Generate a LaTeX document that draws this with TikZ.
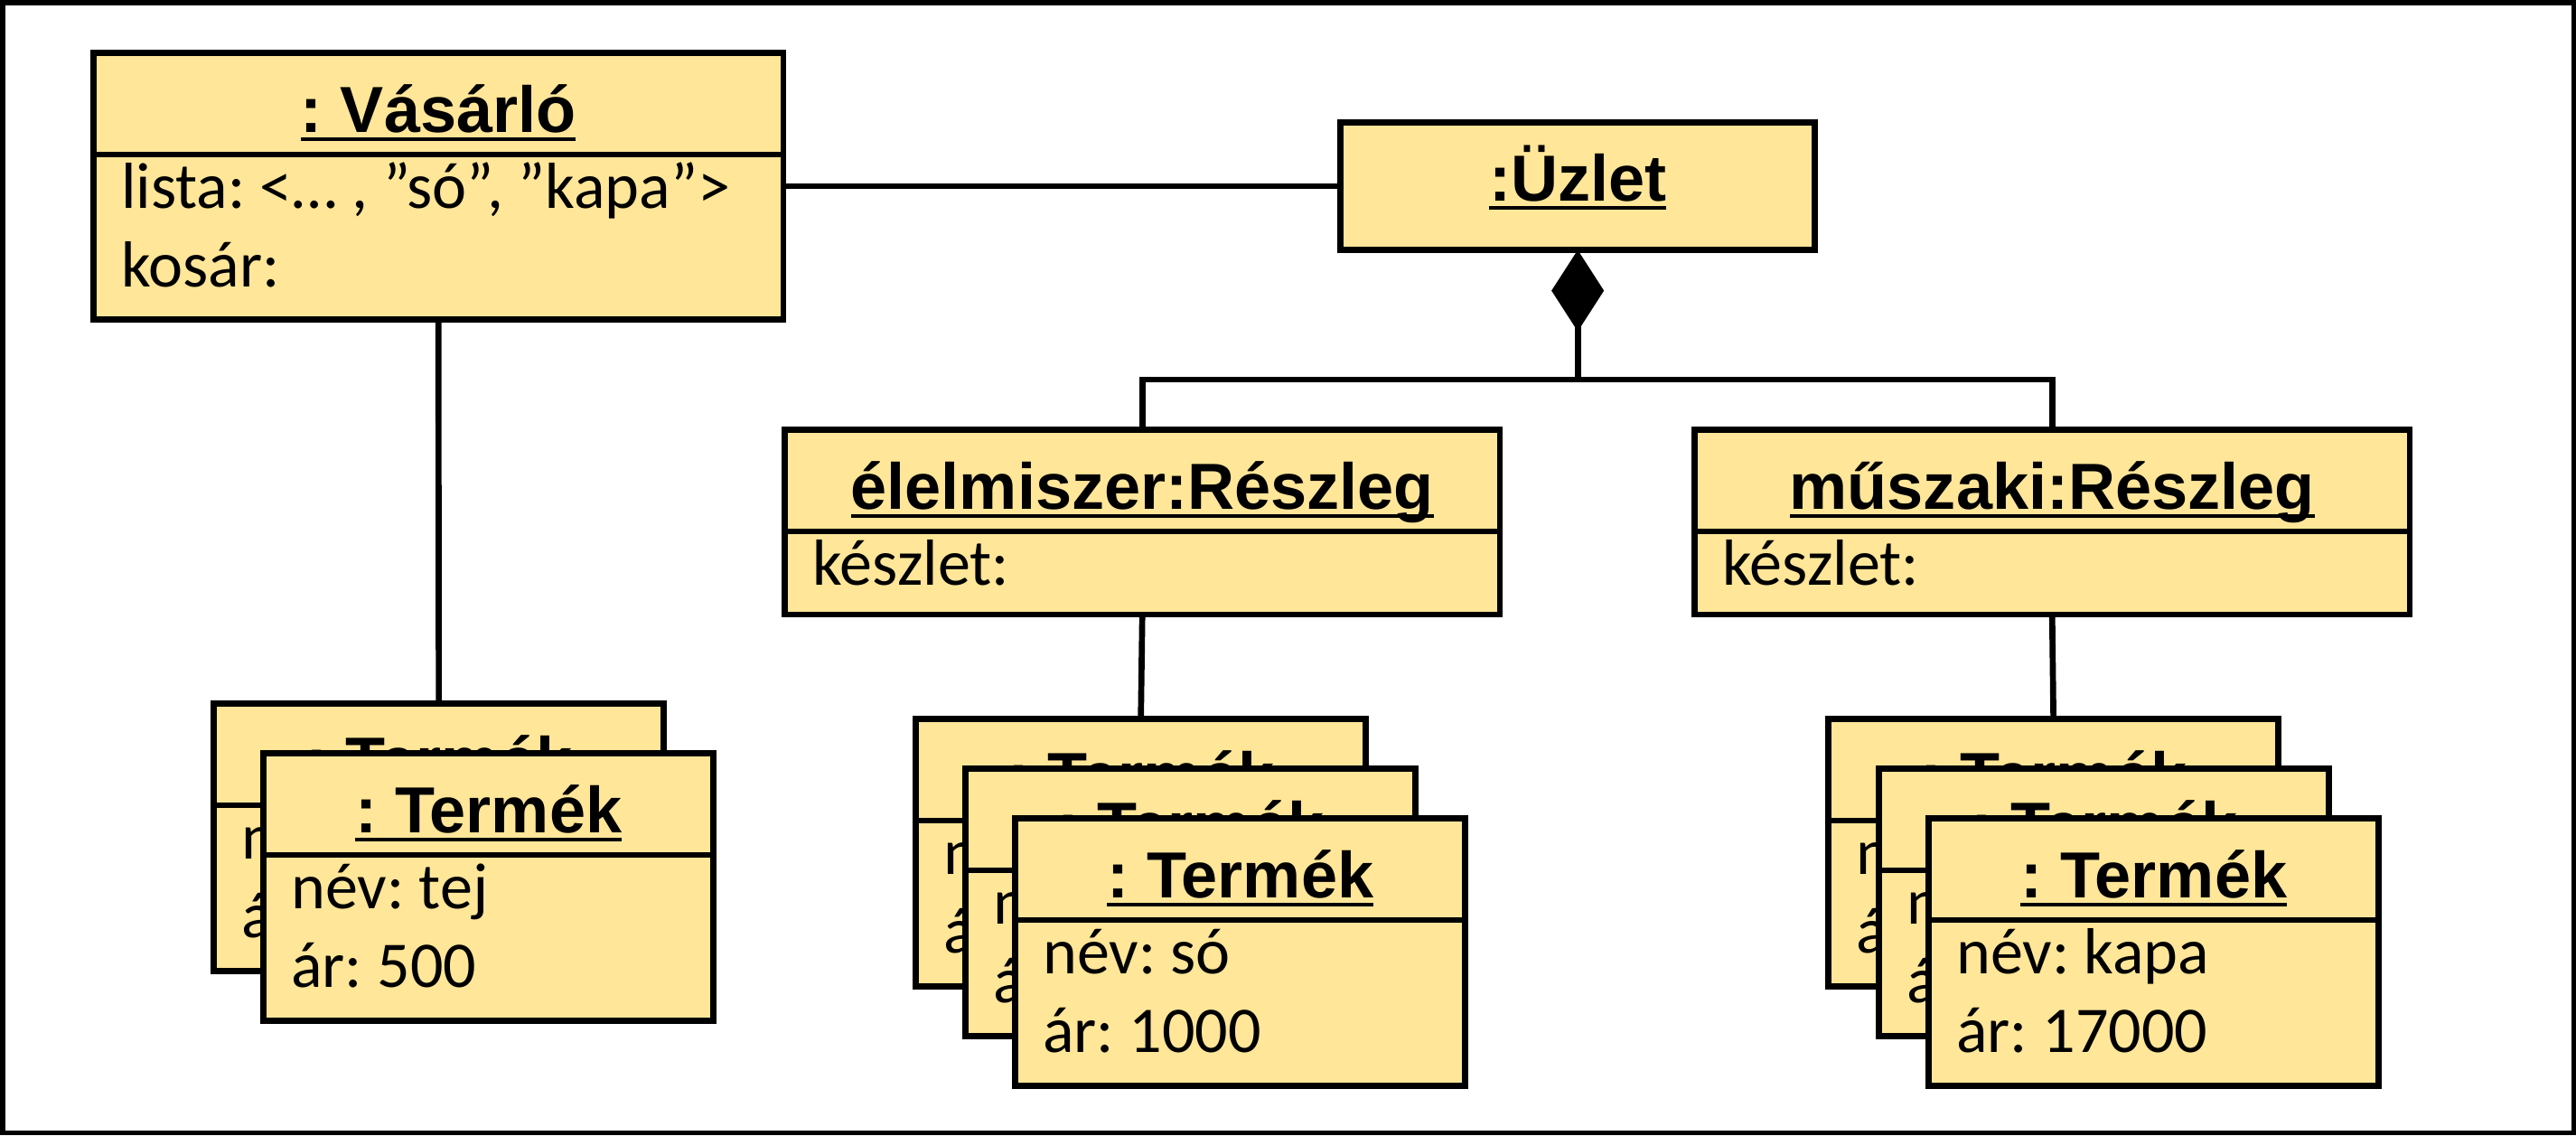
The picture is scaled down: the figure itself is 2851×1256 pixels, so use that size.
\documentclass[tikz,border=0pt]{standalone}
\usepackage{fontspec}
\setmainfont{Carlito}
\newfontfamily\headfont{Liberation Sans}
\usetikzlibrary{arrows.meta, positioning, calc}
\frenchspacing
\definecolor{objfill}{HTML}{FFE699}
\definecolor{objline}{HTML}{000000}
\def\uname#1{\setbox0\hbox{#1}\rlap{\rule[-0.09cm]{\wd0}{0.04cm}}\box0}
\tikzset{
  objhead/.style={rectangle, draw=objline, fill=objfill, line width=1.9pt,
                  anchor=north west, inner sep=0pt, outer sep=0pt,
                  minimum height=1.125cm, text height=0.72cm, text depth=0.08cm,
                  font=\headfont\bfseries\fontsize{20.5}{24}\selectfont},
  objbody/.style={rectangle, draw=objline, fill=objfill, line width=1.9pt,
                  inner sep=0pt, outer sep=0pt},
  attr/.style={anchor=base west, inner sep=0pt,
               font=\fontsize{20.5}{25}\selectfont},
  link/.style={draw=objline, line width=1.9pt},
  part/.style={link, {Diamond[length=0.9cm, width=0.58cm]}-},
  frame/.style={draw=objline, line width=0.055cm},
}
\def\vw{7.63cm}
\def\vbody{1.825cm}
\def\rw{7.91cm}
\def\rbody{0.92cm}
\def\tw{4.98cm}
\def\tbody{1.835cm}
\def\attrx{30}
\def\attry{59}
\def\attryy{146}

\begin{document}
\begin{tikzpicture}[x=0.01cm, y=-0.01cm]
\useasboundingbox (0,0) rectangle (2851,1256);
\draw[frame] (2.75,2.75) rectangle (2848.25,1253.25);

% Customer
\node[objhead, minimum width=\vw] (vas) at (103.5,58.5) {\uname{: Vásárló}};
\node[objbody, minimum width=\vw, minimum height=\vbody, below=0pt of vas] (vas-b) {};
\node[attr] (vas-a1) at ($(vas-b.north west)+(\attrx,\attry)$) {lista: <… , ”só”, ”kapa”>};
\node[attr] (vas-a2) at ($(vas-b.north west)+(\attrx,\attryy)$) {kosár:};

% Shop
\node[objhead, minimum width=5.25cm, minimum height=1.41cm,
      text height=0.6cm, text depth=0.27cm] (uzlet) at (1483.5,135.5) {\uname{:Üzlet}};

% Departments
\foreach \id/\px/\nm in {elel/868.5/élelmiszer, musz/1875.5/műszaki} {
  \node[objhead, minimum width=\rw] (\id) at (\px,475.5) {\uname{\nm:Részleg}};
  \node[objbody, minimum width=\rw, minimum height=\rbody, below=0pt of \id] (\id-b) {};
  \node[attr] (\id-a) at ($(\id-b.north west)+(\attrx,\attry)$) {készlet:};
}

% Products, stacked back to front
\foreach \id/\px/\py/\nev/\ar in {
    tl1/236.5/778.5/{név:}/{ár:}, tl2/291.5/833.5/{név: tej}/{ár: 500},
    tm1/1013.5/795.5/{név:}/{ár:}, tm2/1068.5/850.5/{név:}/{ár:},
    tm3/1123.5/905.5/{név: só}/{ár: 1000},
    tr1/2023.5/795.5/{név:}/{ár:}, tr2/2079.5/850.5/{név:}/{ár:},
    tr3/2134.5/905.5/{név: kapa}/{ár: 17000}} {
  \node[objhead, minimum width=\tw] (\id) at (\px,\py) {\uname{: Termék}};
  \node[objbody, minimum width=\tw, minimum height=\tbody, below=0pt of \id] (\id-b) {};
  \node[attr] (\id-n) at ($(\id-b.north west)+(\attrx,\attry)$) {\nev};
  \node[attr] (\id-r) at ($(\id-b.north west)+(\attrx,\attryy)$) {\ar};
}

% Links
\draw[link] (uzlet.west) -- (uzlet.west -| vas-b.east);
\draw[link] (vas-b.south) -- (tl1.north);
\coordinate (bus) at ($(uzlet.south)+(0,143.5)$);
\draw[part] (uzlet.south) -- (bus);
\draw[link] (elel.north) |- (bus) -| (musz.north);
\draw[link] (elel-b.south) -- (tm1.north);
\draw[link] (musz-b.south) -- (tr1.north);

\end{tikzpicture}
\end{document}
